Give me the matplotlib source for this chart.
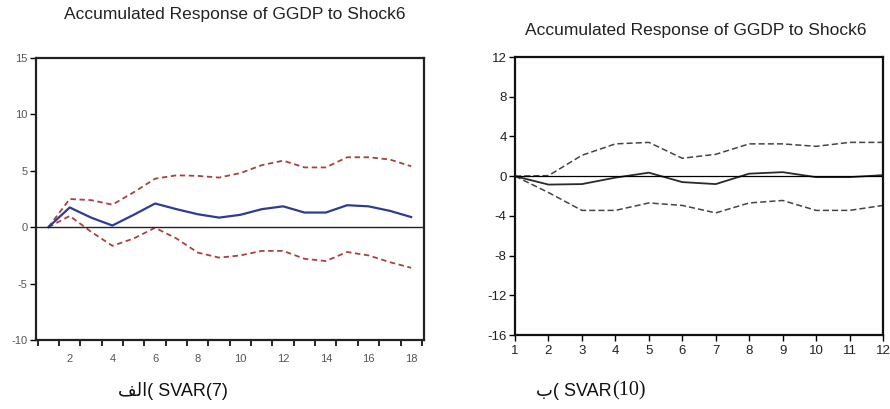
import numpy as np
import matplotlib
matplotlib.use("Agg")
import matplotlib.pyplot as plt
from matplotlib.ticker import FixedLocator, NullFormatter

plt.rcParams['font.family'] = ['Liberation Sans', 'DejaVu Sans']
plt.rcParams['axes.unicode_minus'] = False

# panel (a): SVAR(7), 18 periods
periodos_a = list(range(1, 19))
resp_a = [0.0, 1.75, 0.85, 0.15, 1.1, 2.1, 1.6, 1.15, 0.85, 1.1, 1.6, 1.85, 1.3, 1.3, 1.95, 1.85, 1.45, 0.9]
sup_a = [0.0, 2.5, 2.4, 2.0, 3.1, 4.3, 4.6, 4.55, 4.4, 4.8, 5.5, 5.9, 5.3, 5.3, 6.2, 6.2, 6.0, 5.4]
inf_a = [0.0, 1.0, -0.4, -1.65, -1.0, -0.05, -1.0, -2.25, -2.7, -2.5, -2.1, -2.1, -2.8, -3.0, -2.2, -2.5, -3.1, -3.6]

# panel (b): SVAR(10), 12 periods
periodos_b = list(range(1, 13))
resp_b = [0.0, -0.85, -0.8, -0.15, 0.35, -0.6, -0.8, 0.25, 0.4, -0.1, -0.1, 0.1]
sup_b = [0.0, 0.05, 2.1, 3.25, 3.4, 1.8, 2.2, 3.25, 3.25, 3.0, 3.4, 3.4]
inf_b = [0.0, -1.65, -3.45, -3.45, -2.7, -2.95, -3.7, -2.7, -2.45, -3.45, -3.45, -2.95]

titulo = "Accumulated Response of GGDP to Shock6"
alef_lam_feh = "\uFED2\uFEDF\uFE8D"
beh = "\uFE8F"

fig = plt.figure(figsize=(8.9, 4.09), dpi=100)

# ---- left panel
ax1 = fig.add_axes([36/890, 1-340/409, 388/890, 282/409])
ax1.plot(periodos_a, sup_a, color="#a8423f", lw=1.3, ls=(0, (3, 2)))
ax1.plot(periodos_a, inf_a, color="#a8423f", lw=1.3, ls=(0, (3, 2)))
ax1.plot(periodos_a, resp_a, color="#2e3d8f", lw=1.6)
ax1.axhline(0, color="#222222", lw=1.0)
ax1.set_xlim(0.42, 18.6)
ax1.set_ylim(-10, 15)
ax1.set_yticks([-10, -5, 0, 5, 10, 15])
ax1.set_xticks(range(2, 19, 2))
ax1.xaxis.set_minor_locator(FixedLocator(np.arange(0.5, 18.6, 1.0)))
ax1.xaxis.set_minor_formatter(NullFormatter())
ax1.tick_params(axis='x', which='major', length=0, pad=10, labelsize=8, labelcolor="#555555")
ax1.tick_params(axis='x', which='minor', length=4, width=1.2, direction='out')
ax1.tick_params(axis='y', length=4, width=1.0, direction='out', labelsize=8, labelcolor="#555555", pad=2)
for s in ax1.spines.values():
    s.set_linewidth(1.6)
    s.set_color("#222222")
fig.text(235/890, 1-15/409, titulo, ha='center', va='center', fontsize=12.5, color="#222222")

# ---- right panel
ax2 = fig.add_axes([515/890, 1-335/409, 368/890, 278/409])
ax2.plot(periodos_b, sup_b, color="#444444", lw=1.1, ls=(0, (4, 2)))
ax2.plot(periodos_b, inf_b, color="#444444", lw=1.1, ls=(0, (4, 2)))
ax2.plot(periodos_b, resp_b, color="#2a2a2a", lw=1.3)
ax2.axhline(0, color="black", lw=0.9)
ax2.set_xlim(1, 12)
ax2.set_ylim(-16, 12)
ax2.set_yticks(range(-16, 13, 4))
ax2.set_xticks(periodos_b)
ax2.tick_params(axis='both', length=4, width=1.0, direction='out', labelsize=9.5, labelcolor="#222222")
ax2.tick_params(axis='x', pad=3)
ax2.tick_params(axis='y', pad=2)
for s in ax2.spines.values():
    s.set_linewidth(1.6)
    s.set_color("#111111")
fig.text(696/890, 1-31/409, titulo, ha='center', va='center', fontsize=12.5, color="#222222")

# ---- captions
fig.text(173/890, 1-391/409, alef_lam_feh + "( SVAR(7)", ha='center', va='center',
         fontsize=13, color="#111111")
fig.text(612/890, 1-391/409, beh + "( SVAR", ha='right', va='center',
         fontsize=13, color="#111111")
fig.text(612/890, 1-391/409, "(10)", ha='left', va='center',
         fontsize=14.5, color="#111111", family=['Liberation Serif', 'DejaVu Serif'])

fig.savefig("out.png", dpi=100)
